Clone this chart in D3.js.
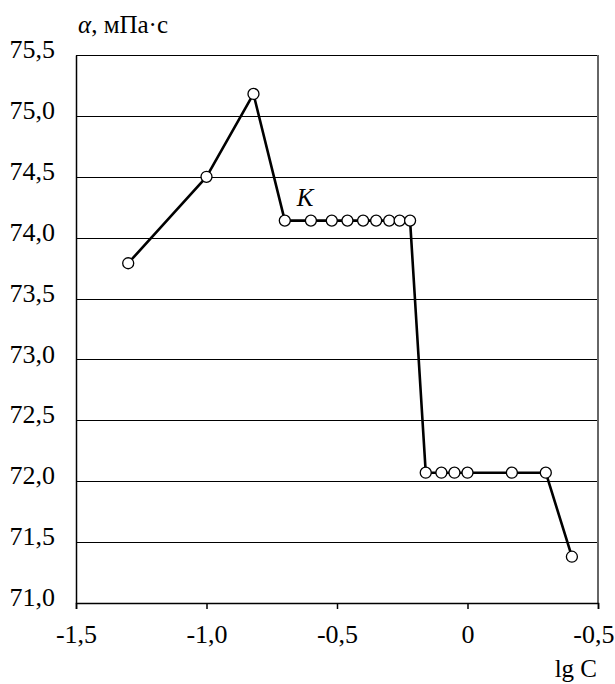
<!DOCTYPE html>
<html>
<head>
<meta charset="utf-8">
<script src="https://cdn.jsdelivr.net/npm/d3@7"></script>
<style>
  html, body { margin: 0; padding: 0; background: #fff; }
</style>
</head>
<body>
<svg id="chart" width="615" height="684"></svg>
<script>
const lgC = [-1.3, -1.0, -0.82, -0.7, -0.6, -0.52, -0.46, -0.4, -0.35, -0.3, -0.26, -0.22, -0.16, -0.1, -0.05, 0.0, 0.17, 0.3, 0.4];
const alphaVals = [73.79, 74.5, 75.18, 74.14, 74.14, 74.14, 74.14, 74.14, 74.14, 74.14, 74.14, 74.14, 72.07, 72.07, 72.07, 72.07, 72.07, 72.07, 71.38];
const xTicks = [-1.5, -1.0, -0.5, 0, 0.5];
const xTickLabels = ["-1,5", "-1,0", "-0,5", "0", "-0,5"];
const yTicks = [71.0, 71.5, 72.0, 72.5, 73.0, 73.5, 74.0, 74.5, 75.0, 75.5];
const yTickLabels = ["71,0", "71,5", "72,0", "72,5", "73,0", "73,5", "74,0", "74,5", "75,0", "75,5"];

const FONT = "Liberation Serif";
const svg = d3.select("#chart");
const pLeft = 76, pRight = 598, pTop = 55, pBottom = 603;
const x = d3.scaleLinear().domain([-1.5, 0.5]).range([pLeft, pRight]);
const y = d3.scaleLinear().domain([71.0, 75.5]).range([pBottom, pTop]);

// gridlines
svg.append("g").selectAll("line").data(yTicks).join("line")
  .attr("x1", pLeft).attr("x2", pRight)
  .attr("y1", d => Math.round(y(d)) + 0.5).attr("y2", d => Math.round(y(d)) + 0.5)
  .attr("stroke", "#000").attr("stroke-width", 1.2);

// right border (grey)
svg.append("line").attr("x1", pRight).attr("x2", pRight).attr("y1", pTop).attr("y2", pBottom)
  .attr("stroke", "#666").attr("stroke-width", 2);

// bottom axis
const xAxis = d3.axisBottom(x).tickValues(xTicks).tickSize(6).tickFormat((d, i) => xTickLabels[i]);
const gx = svg.append("g").attr("transform", `translate(0,${pBottom})`).call(xAxis)
  .attr("font-family", FONT).attr("font-size", 26);
gx.select(".domain").attr("stroke", "#000").attr("stroke-width", 1.5);
gx.selectAll(".tick line").attr("stroke", "#000").attr("stroke-width", 1.5);
gx.selectAll(".tick text").attr("font-family", FONT).attr("font-size", 26).attr("fill", "#000").attr("dy", 0).attr("y", 40);
gx.selectAll(".tick").filter((d, i) => i === xTicks.length - 1).select("text")
  .attr("text-anchor", "end").attr("x", 16);

// left axis
const yAxis = d3.axisLeft(y).tickValues(yTicks).tickSize(0).tickPadding(21).tickFormat((d, i) => yTickLabels[i]);
const gy = svg.append("g").attr("transform", `translate(${pLeft},0)`).call(yAxis)
  .attr("font-family", FONT).attr("font-size", 26);
gy.select(".domain").attr("stroke", "#000").attr("stroke-width", 1.5);
gy.selectAll(".tick text").attr("font-family", FONT).attr("font-size", 26).attr("fill", "#000").attr("dy", "0.1em");

// line
const pts = lgC.map((v, i) => [v, alphaVals[i]]);
svg.append("path").datum(pts)
  .attr("fill", "none").attr("stroke", "#000").attr("stroke-width", 2.6).attr("stroke-linejoin", "round")
  .attr("d", d3.line().x(d => x(d[0])).y(d => y(d[1])));

svg.append("g").selectAll("circle").data(pts).join("circle")
  .attr("cx", d => x(d[0])).attr("cy", d => y(d[1])).attr("r", 5.5)
  .attr("fill", "#fff").attr("stroke", "#000").attr("stroke-width", 1.3);

// labels
const t = svg.append("text").attr("x", 78).attr("y", 33).attr("font-size", 25).attr("font-family", FONT);
t.append("tspan").attr("font-style", "italic").text("α");
t.append("tspan").text(", мПа·с");

svg.append("text").attr("x", 305).attr("y", 206).attr("font-size", 25).attr("font-style", "italic")
  .attr("font-family", FONT).attr("text-anchor", "middle").text("K");

svg.append("text").attr("x", 597).attr("y", 677).attr("font-size", 25).attr("font-family", FONT)
  .attr("text-anchor", "end").text("lg C");
</script>
</body>
</html>
